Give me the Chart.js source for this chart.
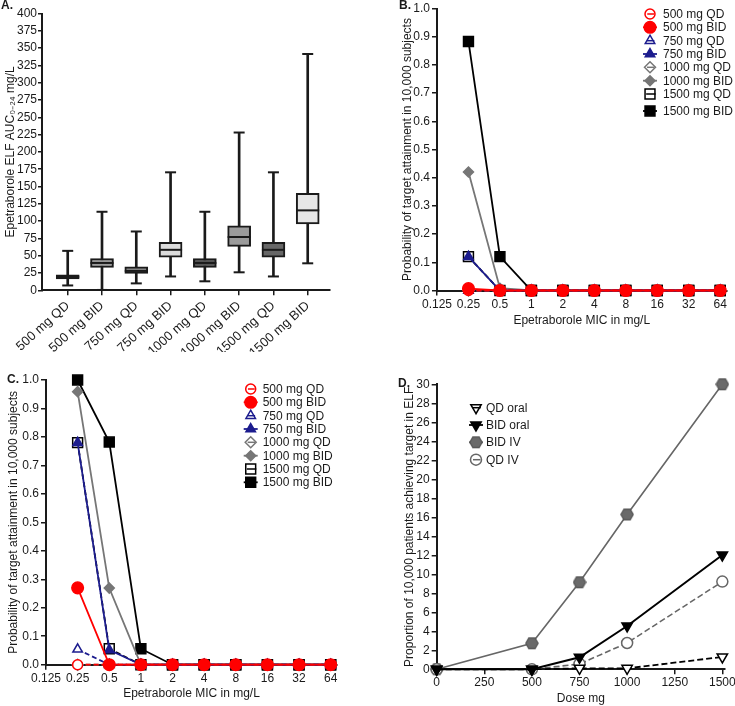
<!DOCTYPE html>
<html><head><meta charset="utf-8">
<script src="https://cdn.jsdelivr.net/npm/chart.js@4.4.1/dist/chart.umd.min.js"></script>
<style>
html,body{margin:0;padding:0;background:#fff;}
#wrap{position:relative;width:735px;height:706px;overflow:hidden;background:#fff;}
canvas{position:absolute;}
</style></head><body>
<div id="wrap">
<canvas id="cA" width="370" height="352" style="left:0px;top:0px"></canvas>
<canvas id="cB" width="365" height="340" style="left:370px;top:0px"></canvas>
<canvas id="cC" width="370" height="366" style="left:0px;top:340px"></canvas>
<canvas id="cD" width="365" height="366" style="left:370px;top:340px"></canvas>
</div>
<script>
// ---------- DATA ----------
// Panel A: ELF AUC0-24 box plots
const regimens = ['500 mg QD','500 mg BID','750 mg QD','750 mg BID','1000 mg QD','1000 mg BID','1500 mg QD','1500 mg BID'];
const aucMin    = [7,   0.5,  10,  20,   13,   26,   20,   39];
const aucQ1     = [16.5, 33,  24.5, 48,  33,   63.5, 48,   96];
const aucMedian = [19.5, 39.5, 28,  58.5, 39.5, 77,  58.5, 115.5];
const aucQ3     = [22.5, 46,  34,  69.5, 46,   93,   69.5, 140];
const aucMax    = [57, 113.5, 85, 170.5, 113.5, 228, 170.5, 341.5];
const aucTicks  = [0,25,50,75,100,125,150,175,200,225,250,275,300,325,350,375,400];

// Panels B & C: probability of target attainment vs MIC
const micLabels = ['0.125','0.25','0.5','1','2','4','8','16','32','64'];
const micTested = ['0.25','0.5','1','2','4','8','16','32','64'];
const ptaTicks  = [0,0.1,0.2,0.3,0.4,0.5,0.6,0.7,0.8,0.9,1.0];

const b500QD   = [0,     0, 0, 0, 0, 0, 0, 0, 0];
const b500BID  = [0.007, 0, 0, 0, 0, 0, 0, 0, 0];
const b750QD   = [0,     0, 0, 0, 0, 0, 0, 0, 0];
const b750BID  = [0.12,  0, 0, 0, 0, 0, 0, 0, 0];
const b1000QD  = [0,     0, 0, 0, 0, 0, 0, 0, 0];
const b1000BID = [0.42,  0.008, 0, 0, 0, 0, 0, 0, 0];
const b1500QD  = [0.12,  0, 0, 0, 0, 0, 0, 0, 0];
const b1500BID = [0.883, 0.12, 0, 0, 0, 0, 0, 0, 0];

const c500QD   = [0,     0, 0, 0, 0, 0, 0, 0, 0];
const c500BID  = [0.27,  0, 0, 0, 0, 0, 0, 0, 0];
const c750QD   = [0.054, 0, 0, 0, 0, 0, 0, 0, 0];
const c750BID  = [0.78,  0.052, 0, 0, 0, 0, 0, 0, 0];
const c1000QD  = [0,     0, 0, 0, 0, 0, 0, 0, 0];
const c1000BID = [0.959, 0.269, 0, 0, 0, 0, 0, 0, 0];
const c1500QD  = [0.78,  0.056, 0, 0, 0, 0, 0, 0, 0];
const c1500BID = [1.0,   0.782, 0.056, 0, 0, 0, 0, 0, 0];

// Panel D: proportion achieving target vs dose
const doses      = [0, 500, 750, 1000, 1500];
const doseTicks  = [0, 250, 500, 750, 1000, 1250, 1500];
const propTicks  = [0,2,4,6,8,10,12,14,16,18,20,22,24,26,28,30];
const dQDoral    = [0, 0, 0.1, 0.1, 1.3];
const dBIDoral   = [0, 0, 1.26, 4.56, 12.03];
const dBIDIV     = [0, 2.74, 9.16, 16.3, 30];
const dQDIV      = [0, 0, 0.56, 2.77, 9.23];

// ---------- STYLES ----------
const FONT = "'Liberation Sans', Arial, sans-serif";
Chart.defaults.font.family = FONT;
Chart.defaults.font.size = 12;
Chart.defaults.color = '#1a1a1a';
const INK = '#1a1a1a';
const RED = '#ff0000', NAVY = '#1c1c8e', GRAY = '#767676';
const boxColors = ['#555555','#9b9b9b','#8a8a8a','#dcdcdc','#555555','#9b9b9b','#676767','#e6e6e6'];

// hexagon marker image (pointStyle canvas)
function hexMarker(size, fill, stroke){
  const c = document.createElement('canvas'); c.width = size; c.height = size;
  const g = c.getContext('2d'); const r = size / 2 - 0.8, cx = size / 2, cy = size / 2;
  g.beginPath();
  for (let k = 0; k < 6; k++) { const a = Math.PI / 3 * k; const px = cx + r * Math.cos(a), py = cy + r * Math.sin(a); k ? g.lineTo(px, py) : g.moveTo(px, py); }
  g.closePath(); g.fillStyle = fill; g.fill(); g.strokeStyle = stroke; g.lineWidth = 1.2; g.stroke();
  return c;
}
const HEX = hexMarker(14, '#6a6a6a', '#555');

const regStyle = {
  '500 mg QD':   {color:RED,  fill:'#ffffff', style:'circle',   r:5,   rot:0, dash:[5,3], qd:true},
  '500 mg BID':  {color:RED,  fill:RED,       style:'circle',   r:5.8, rot:0, dash:[],    qd:false},
  '750 mg QD':   {color:NAVY, fill:'#ffffff', style:'triangle', r:5.5, rot:0, dash:[5,3], qd:true},
  '750 mg BID':  {color:NAVY, fill:NAVY,      style:'triangle', r:5.5, rot:0, dash:[],    qd:false},
  '1000 mg QD':  {color:GRAY, fill:'#ffffff', style:'rectRot',  r:5.5, rot:0, dash:[5,3], qd:true},
  '1000 mg BID': {color:GRAY, fill:GRAY,      style:'rectRot',  r:5,   rot:0, dash:[],    qd:false},
  '1500 mg QD':  {color:'#000', fill:'#ffffff', style:'rect',   r:7,   rot:0, dash:[5,3], qd:true},
  '1500 mg BID': {color:'#000', fill:'#000',  style:'rect',     r:7,   rot:0, dash:[],    qd:false}
};
// draw order (lower = on top)
const regOrder = {'500 mg BID':0,'500 mg QD':1,'750 mg BID':2,'750 mg QD':3,'1000 mg BID':4,'1000 mg QD':5,'1500 mg BID':6,'1500 mg QD':7};

const doseSeries = ['QD oral','BID oral','BID IV','QD IV'];
const doseStyle = {
  'QD oral':  {color:'#000', fill:'#ffffff', style:'triangle', r:6, rot:180, dash:[6,3], qd:true, lw:1.8},
  'BID oral': {color:'#000', fill:'#000',    style:'triangle', r:6, rot:180, dash:[],    qd:false, lw:2},
  'BID IV':   {color:'#666', fill:'#666',    style:HEX,        r:7, rot:0,   dash:[],    qd:false, lw:1.6},
  'QD IV':    {color:'#666', fill:'#ffffff', style:'circle',   r:5.5, rot:0, dash:[6,3], qd:true, lw:1.6}
};
const doseOrder = {'BID oral':0,'QD oral':1,'QD IV':2,'BID IV':3};

// ---------- HELPERS ----------
function zeroPad(s){ s.paddingTop=0; s.paddingBottom=0; s.paddingLeft=0; s.paddingRight=0; }
function drawMarker(ctx, st, x, y){
  ctx.save();
  ctx.fillStyle = st.fill; ctx.strokeStyle = st.color; ctx.lineWidth = 1.5; ctx.setLineDash([]);
  Chart.helpers.drawPoint(ctx, {pointStyle: st.style, radius: st.r, rotation: st.rot || 0, borderWidth: 1.5}, x, y);
  ctx.restore();
}
function textPlugin(id, items){
  return {id, afterDraw(chart){
    const ctx = chart.ctx; ctx.save();
    items.forEach(t => {
      ctx.font = (t.bold ? 'bold ' : '') + t.size + 'px ' + FONT;
      ctx.fillStyle = INK; ctx.textAlign = 'left'; ctx.textBaseline = 'middle';
      ctx.fillText(t.text, t.x, t.y);
    });
    ctx.restore();
  }};
}
function legendPlugin(id, names, styles, mx, tx, ys){
  return {id, afterDraw(chart){
    const ctx = chart.ctx; ctx.save();
    names.forEach((n, i) => {
      const st = styles[n], y = ys[i];
      if (!st.qd) {
        ctx.strokeStyle = st.color; ctx.lineWidth = 1.8; ctx.setLineDash([]);
        ctx.beginPath(); ctx.moveTo(mx - 7, y); ctx.lineTo(mx + 7, y); ctx.stroke();
      }
      drawMarker(ctx, st, mx, y);
      if (st.qd) {
        ctx.strokeStyle = st.color; ctx.lineWidth = 1.5; ctx.setLineDash([]);
        ctx.beginPath(); ctx.moveTo(mx - st.r * 0.55, y); ctx.lineTo(mx + st.r * 0.8, y); ctx.stroke();
      }
      ctx.font = '12px ' + FONT; ctx.fillStyle = INK; ctx.textAlign = 'left'; ctx.textBaseline = 'middle';
      ctx.fillText(n, tx, y + 0.5);
    });
    ctx.restore();
  }};
}
function yAxis(o){
  return {
    type:'linear', position:'left', min:o.min, max:o.max,
    afterBuildTicks: s => { s.ticks = o.ticks.map(v => ({value:v})); },
    ticks:{autoSkip:false, padding:o.tickPad, color:INK, font:{size:12}, callback:o.fmt},
    grid:{display:true, drawOnChartArea:false, drawTicks:true, tickLength:o.tickLen, color:INK, lineWidth:1.5},
    border:{display:true, color:INK, width:2},
    title:{display:true, text:o.title, color:INK, font:{size:12}, padding:{top:o.titlePad, bottom:0}},
    afterFit: s => { s.width = o.width; zeroPad(s); }
  };
}
function xAxis(o){
  return {
    type:'linear', position:'bottom', min:o.min, max:o.max, offset:false,
    afterBuildTicks: s => { s.ticks = o.ticks.map(v => ({value:v})); },
    ticks:{autoSkip:false, padding:o.tickPad, color:INK, font:{size:o.fontSize || 12}, callback:o.fmt,
           minRotation:o.rot || 0, maxRotation:o.rot || 0},
    grid:{display:true, offset:false, drawOnChartArea:false, drawTicks:true, tickLength:o.tickLen, color:INK, lineWidth:1.5},
    border:{display:true, color:INK, width:2},
    title:{display:!!o.title, text:o.title || '', color:INK, font:{size:12}, padding:{top:0, bottom:o.titlePad || 0}},
    afterFit: s => { s.height = o.height; zeroPad(s); }
  };
}
const baseOpts = {responsive:false, animation:false, devicePixelRatio:1, events:[],
  plugins:{legend:{display:false}, tooltip:{enabled:false}}};

// ---------- PANEL A ----------
const boxIdx = regimens.map((r, i) => i);
new Chart(document.getElementById('cA'), {
  type:'bar',
  data:{datasets:[
    {type:'bar', label:'whisker', order:3, grouped:false, barThickness:2, borderWidth:0,
     backgroundColor:INK, data: boxIdx.map(i => ({x:i, y:[aucMin[i], aucMax[i]]}))},
    {type:'bar', label:'box', order:2, grouped:false, barThickness:23, borderWidth:2, borderSkipped:false,
     borderColor:INK, backgroundColor:boxColors, data: boxIdx.map(i => ({x:i, y:[aucQ1[i], aucQ3[i]]}))},
    {type:'scatter', label:'median', order:1, pointStyle:'line', pointRadius:11.5, pointBorderWidth:2,
     pointBorderColor:INK, clip:false, data: boxIdx.map(i => ({x:i, y:aucMedian[i]}))},
    {type:'scatter', label:'max', order:1, pointStyle:'line', pointRadius:5.5, pointBorderWidth:2,
     pointBorderColor:INK, clip:false, data: boxIdx.map(i => ({x:i, y:aucMax[i]}))},
    {type:'scatter', label:'min', order:1, pointStyle:'line', pointRadius:5.5, pointBorderWidth:2,
     pointBorderColor:INK, clip:false, data: boxIdx.map(i => ({x:i, y:aucMin[i]}))}
  ]},
  options:Object.assign({}, baseOpts, {
    layout:{padding:{top:5.3, left:0, right:40, bottom:0}},
    scales:{
      x: xAxis({min:-0.75, max:7.65, ticks:boxIdx, fmt:v => regimens[v], rot:42, fontSize:13, tickLen:5, tickPad:3, height:61.7}),
      y: yAxis({min:0, max:400, ticks:aucTicks, fmt:v => String(v), width:42, tickLen:4, tickPad:1, titlePad:3,
                title:'Epetraborole ELF AUC\u2080\u208B\u2082\u2084 mg/L'})
    }
  }),
  plugins:[textPlugin('lblA', [{text:'A.', x:1, y:6, size:12, bold:true}])]
});

// ---------- PANELS B & C ----------
function micPts(vals){ return vals.map((v, i) => ({x: micLabels.indexOf(micTested[i]), y: v})); }
function regDataset(name, vals){
  const st = regStyle[name];
  return {type:'line', label:name, order:regOrder[name], data:micPts(vals), borderColor:st.color, backgroundColor:st.fill,
    pointBackgroundColor:st.fill, pointBorderColor:st.color, pointStyle:st.style, pointRadius:st.r,
    pointRotation:st.rot, pointBorderWidth:1.5, borderWidth:1.8, borderDash:st.dash, tension:0, fill:false, clip:false};
}
function ptaChart(id, sets, L){
  new Chart(document.getElementById(id), {
    type:'line',
    data:{datasets: regimens.map((r, i) => regDataset(r, sets[i]))},
    options:Object.assign({}, baseOpts, {
      layout:{padding:L.pad},
      scales:{
        x: xAxis({min:0, max:9.2, ticks:micLabels.map((m, i) => i), fmt:v => micLabels[v], tickLen:5, tickPad:1.5,
                  height:L.xh, title:'Epetraborole MIC in mg/L', titlePad:L.xtp}),
        y: yAxis({min:0, max:1, ticks:ptaTicks, fmt:v => v.toFixed(1), width:L.yw, tickLen:5, tickPad:2, titlePad:L.ytp,
                  title:'Probability of target attainment in 10,000 subjects'})
      }
    }),
    plugins:[textPlugin('lbl' + id, [L.letter]),
             legendPlugin('leg' + id, regimens, regStyle, L.mx, L.tx, L.ys)]
  });
}
ptaChart('cB', [b500QD,b500BID,b750QD,b750BID,b1000QD,b1000BID,b1500QD,b1500BID], {
  pad:{top:5.7, left:0, right:8, bottom:0}, xh:49.5, xtp:12, yw:67, ytp:30.8,
  letter:{text:'B.', x:29, y:6, size:12, bold:true},
  mx:280, tx:293, ys:[14, 27.3, 40.7, 54, 67.3, 80.7, 94, 111]
});
ptaChart('cC', [c500QD,c500BID,c750QD,c750BID,c1000QD,c1000BID,c1500QD,c1500BID], {
  pad:{top:40, left:0, right:33, bottom:0}, xh:41.3, xtp:4.8, yw:46, ytp:6,
  letter:{text:'C.', x:7, y:40, size:12, bold:true},
  mx:250.7, tx:262.7, ys:[49, 62.3, 75.7, 89, 102.3, 115.7, 129, 142.3]
});

// ---------- PANEL D ----------
const doseSets = {'QD oral':dQDoral, 'BID oral':dBIDoral, 'BID IV':dBIDIV, 'QD IV':dQDIV};
new Chart(document.getElementById('cD'), {
  type:'line',
  data:{datasets: doseSeries.map(n => {
    const st = doseStyle[n];
    return {label:n, order:doseOrder[n], data: doses.map((d, i) => ({x:d, y:doseSets[n][i]})),
      borderColor:st.color, backgroundColor:st.fill, pointBackgroundColor:st.fill, pointBorderColor:st.color,
      pointStyle:st.style, pointRadius:st.r, pointRotation:st.rot, pointBorderWidth:1.5, borderWidth:st.lw,
      borderDash:st.dash, tension:0, fill:false, clip:false};
  })},
  options:Object.assign({}, baseOpts, {
    layout:{padding:{top:44.3, left:0, right:10, bottom:0}},
    scales:{
      x: xAxis({min:0, max:1514, ticks:doseTicks, fmt:v => String(v), tickLen:5, tickPad:1.5, height:36.7,
                title:'Dose mg', titlePad:0}),
      y: yAxis({min:0, max:30, ticks:propTicks, fmt:v => String(v), width:66.7, tickLen:5, tickPad:2, titlePad:32.8,
                title:'Proportion of 10,000 patients achieving target in ELF'})
    }
  }),
  plugins:[textPlugin('lblD', [{text:'D.', x:28, y:44, size:12, bold:true}]),
           legendPlugin('legD', doseSeries, doseStyle, 106, 116, [67.7, 85, 102.3, 119.7])]
});
</script>
</body></html>
